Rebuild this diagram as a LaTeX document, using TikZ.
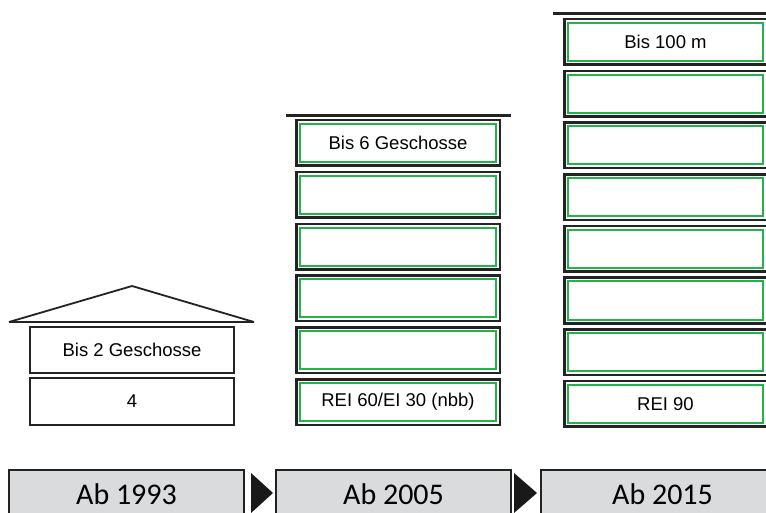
\documentclass[tikz,border=0pt]{standalone}
\usepackage{fontspec}
\setmainfont{Liberation Sans}
\newfontfamily\tlfont{Carlito}
\definecolor{grn}{RGB}{36,178,75}
\definecolor{dk}{RGB}{35,35,35}
\definecolor{tlgray}{RGB}{218,219,221}
\tikzset{
  floorbox/.style={draw=dk, line width=2.5pt, minimum width=203.5pt, minimum height=45.5pt,
    inner sep=0pt, outer sep=0pt, font=\fontsize{18.5}{21}\selectfont},
  plainbox/.style={draw=dk, line width=2pt, minimum width=204pt, minimum height=46pt,
    inner sep=0pt, outer sep=0pt, font=\fontsize{18.5}{21}\selectfont},
  greenline/.style={draw=grn, line width=2pt},
  topline/.style={draw=dk, line width=3pt},
  roofline/.style={draw=dk, line width=1.8pt, line join=bevel},
  tlbox/.style={draw=dk, fill=tlgray, line width=1.8pt, minimum height=48pt,
    inner sep=0pt, outer sep=0pt, font=\tlfont\fontsize{30}{36}\selectfont},
  tlarrow/.style={fill=black!90},
}
\begin{document}
\begin{tikzpicture}[x=1pt,y=-1pt]
\clip (0,0) rectangle (766,513);
\fill[white] (0,0) rectangle (766,513);

% ---------- building 1 ----------
\coordinate (rl) at (9,322);
\coordinate (rr) at (254,322);
\coordinate (rt) at (132,286);
\draw[roofline] (rl) -- (rr) -- (rt) -- cycle;
\node[plainbox] (b1f2) at (132,350) {Bis 2 Geschosse};
\node[plainbox, minimum height=47pt] (b1f1) at (132,401.5) {4};

% ---------- building 2 ----------
\coordinate (t2l) at (286,116);
\coordinate (t2r) at (511,116);
\draw[topline] (t2l) -- (t2r);
\foreach \i/\txt in {0/{Bis 6 Geschosse},1/{},2/{},3/{},4/{},5/{REI 60/EI 30 (nbb)}}{
  \node[floorbox] (b2f\i) at (398,{119+51.8*\i+24}) {\txt};
  \draw[greenline] ([shift={(3.75,3.75)}]b2f\i.north west) rectangle ([shift={(-3.75,-3.75)}]b2f\i.south east);
}

% ---------- building 3 ----------
\coordinate (t3l) at (553,14);
\coordinate (t3r) at (780,14);
\draw[topline] (t3l) -- (t3r);
\foreach \i/\txt in {0/{Bis 100 m},1/{},2/{},3/{},4/{},5/{},6/{},7/{REI 90}}{
  \node[floorbox, minimum width=202.5pt] (b3f\i) at (665.5,{18+51.7*\i+24}) {\txt};
  \draw[greenline] ([shift={(3.75,3.75)}]b3f\i.north west) rectangle ([shift={(-3.75,-3.75)}]b3f\i.south east);
}

% ---------- timeline ----------
\node[tlbox, minimum width=235pt] (tl1) at (126.5,494) {Ab 1993};
\node[tlbox, minimum width=235pt] (tl2) at (393.5,494) {Ab 2005};
\node[tlbox, minimum width=243pt] (tl3) at (662.5,494) {Ab 2015};

\coordinate (a1t) at (251,473);
\coordinate (a1p) at (273,493);
\coordinate (a1b) at (251,513);
\fill[tlarrow] (a1t) -- (a1p) -- (a1b) -- cycle;
\coordinate (a2t) at (514,473);
\coordinate (a2p) at (537,493);
\coordinate (a2b) at (514,513);
\fill[tlarrow] (a2t) -- (a2p) -- (a2b) -- cycle;
\end{tikzpicture}
\end{document}
